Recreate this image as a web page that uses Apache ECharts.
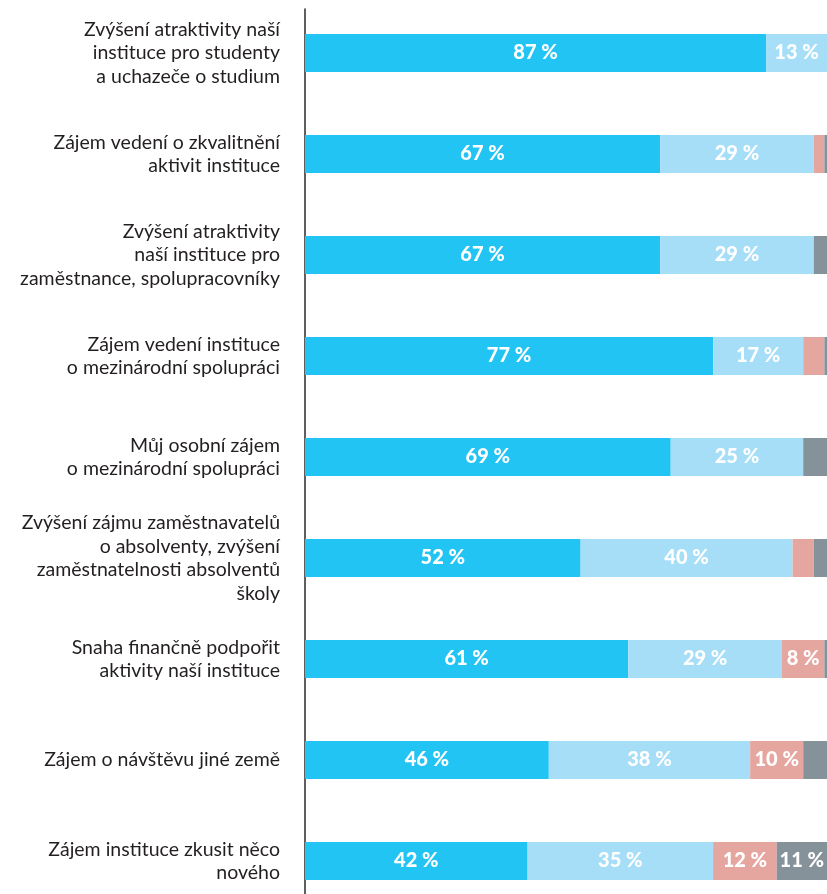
<!DOCTYPE html>
<html>
<head>
<meta charset="utf-8">
<script src="https://cdn.jsdelivr.net/npm/echarts@6/dist/echarts.min.js"></script>
<style>html,body{margin:0;padding:0;background:#fff}#c{width:827px;height:894px}</style>
</head>
<body>
<div id="c"></div>
<script>
const categories = [
  "Zvýšení atraktivity naší\ninstituce pro studenty\na uchazeče o studium",
  "Zájem vedení o zkvalitnění\naktivit instituce",
  "Zvýšení atraktivity\nnaší instituce pro\nzaměstnance, spolupracovníky",
  "Zájem vedení instituce\no mezinárodní spolupráci",
  "Můj osobní zájem\no mezinárodní spolupráci",
  "Zvýšení zájmu zaměstnavatelů\no absolventy, zvýšení\nzaměstnatelnosti absolventů\nškoly",
  "Snaha finančně podpořit\naktivity naší instituce",
  "Zájem o návštěvu jiné země",
  "Zájem instituce zkusit něco\nnového"
];
const series1 = [87, 67, 67, 77, 69, 52, 61, 46, 42];
const series2 = [13, 29, 29, 17, 25, 40, 29, 38, 35];
const series3 = [0, 2, 0, 4, 0, 4, 8, 10, 12];
const series4 = [0, 2, 4, 2, 6, 4, 2, 6, 11];
const colors = ["#22C4F3", "#A6DEF8", "#E5A6A0", "#85929A"];
// visible part of the 0–100 % scale (the chart is cropped on the right)
const xMax = 98.49;

const labelCfg = {
  show: true,
  position: 'inside',
  color: '#fff',
  fontFamily: 'Lato',
  fontWeight: 900,
  fontSize: 20,
  formatter: p => p.value >= 8 ? p.value + ' %' : ''
};
function mk(name, data, color) {
  return {
    name, type: 'bar', stack: 'all', data, barWidth: 38, clip: true,
    xAxisIndex: 0, yAxisIndex: 0,
    itemStyle: { color },
    label: labelCfg,
    emphasis: { disabled: true }
  };
}
const chart = echarts.init(document.getElementById('c'), null, { renderer: 'canvas' });
chart.setOption({
  animation: false,
  backgroundColor: '#fff',
  grid: [
    { left: 305, right: 0, top: 53, bottom: 33, containLabel: false },
    { left: 305, right: 0, top: 9, bottom: 0, containLabel: false }
  ],
  xAxis: [
    { type: 'value', min: 0, max: xMax, show: false, gridIndex: 0 },
    { type: 'value', min: 0, max: 1, show: false, gridIndex: 1 }
  ],
  yAxis: [
    {
      type: 'category', data: categories, inverse: true, boundaryGap: false, gridIndex: 0,
      axisLine: { show: false },
      axisTick: { show: false },
      splitLine: { show: false },
      axisLabel: {
        color: '#231f20', fontFamily: 'Lato', fontSize: 19.5, lineHeight: 23.5,
        align: 'right', margin: 25
      }
    },
    {
      type: 'value', min: 0, max: 1, gridIndex: 1,
      axisLine: { show: true, lineStyle: { color: '#2a2a2a', width: 1.5 } },
      axisTick: { show: false }, axisLabel: { show: false }, splitLine: { show: false }
    }
  ],
  series: [
    mk('a', series1, colors[0]),
    mk('b', series2, colors[1]),
    mk('c', series3, colors[2]),
    mk('d', series4, colors[3])
  ]
});
</script>
</body>
</html>
